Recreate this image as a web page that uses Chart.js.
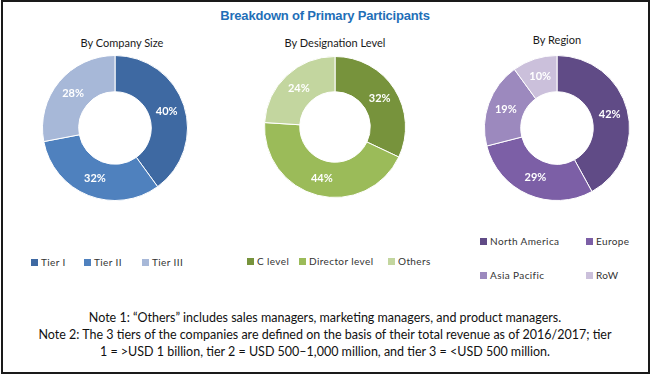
<!DOCTYPE html>
<html>
<head>
<meta charset="utf-8">
<script src="https://cdn.jsdelivr.net/npm/chart.js@4/dist/chart.umd.min.js"></script>
<style>
body { margin: 0; background: #fff; }
#cadre { position: relative; width: 650px; height: 374px; background: #fff; overflow: hidden; font-family: Lato, "Open Sans", sans-serif; }
#bord { position: absolute; left: 1px; top: 0; width: 645px; height: 370px; border: 2px solid #1a1a1a; }
.titre { position: absolute; left: 0; width: 650px; top: 8px; text-align: center; color: #1F6FB8; font: bold 13px "Liberation Sans Narrow", "Liberation Sans", sans-serif; letter-spacing: -0.2px; }
.sous { position: absolute; width: 200px; text-align: center; font-size: 11px; color: #1a1a1a; }
canvas { position: absolute; }
.leg { position: absolute; font-size: 10px; color: #333; white-space: nowrap; letter-spacing: 0.4px; }
.leg i { display: inline-block; width: 7px; height: 7px; margin-right: 3px; vertical-align: 0px; }
.notes { position: absolute; left: 0; width: 650px; top: 309px; text-align: center; font-size: 12.5px; line-height: 17px; color: #111; }
</style>
</head>
<body>
<div id="cadre">
  <div id="bord"></div>
  <div class="titre">Breakdown of Primary Participants</div>
  <div class="sous" style="left:22px;top:36px">By Company Size</div>
  <div class="sous" style="left:235px;top:36px">By Designation Level</div>
  <div class="sous" style="left:457px;top:33px">By Region</div>
  <canvas id="g1" width="146" height="146" style="left:42px;top:55px"></canvas>
  <canvas id="g2" width="142" height="142" style="left:264px;top:56px"></canvas>
  <canvas id="g3" width="146" height="146" style="left:484px;top:55px"></canvas>
  <div id="legendes"></div>
  <div class="notes">Note 1: “Others” includes sales managers, marketing managers, and product managers.<br>Note 2: The 3 tiers of the companies are defined on the basis of their total revenue as of 2016/2017; tier<br>1 = &gt;USD 1 billion, tier 2 = USD 500–1,000 million, and tier 3 = &lt;USD 500 million.</div>
</div>
<script>
// donnees des trois anneaux
const tailleLabels = ["Tier I", "Tier II", "Tier III"];
const tailleValeurs = [40, 32, 28];
const tailleCouleurs = ["#3E69A2", "#4F81BE", "#A7B8D8"];

const niveauLabels = ["C level", "Director level", "Others"];
const niveauValeurs = [32, 44, 24];
const niveauCouleurs = ["#77933C", "#9BBB59", "#C3D69F"];

const regionLabels = ["North America", "Europe", "Asia Pacific", "RoW"];
const regionValeurs = [42, 29, 19, 10];
const regionCouleurs = ["#604B86", "#7C5FA6", "#9C89BE", "#CBC0DB"];

// position des legendes (x, y) pour chaque element
const legendePos = {
    g1: [[31, 256], [84, 256], [142, 256]],
    g2: [[247, 255], [299, 255], [388, 255]],
    g3: [[480, 235], [586, 235], [480, 269], [586, 269]]
};

const pourcents = {
    id: "pourcents",
    afterDatasetsDraw(chart) {
        const ctx = chart.ctx;
        const meta = chart.getDatasetMeta(0);
        ctx.save();
        ctx.fillStyle = "#fff";
        ctx.font = "bold 11px Lato, sans-serif";
        ctx.textAlign = "center";
        ctx.textBaseline = "middle";
        meta.data.forEach((arc, i) => {
            const p = arc.tooltipPosition();
            ctx.fillText(chart.data.datasets[0].data[i] + "%", p.x, p.y);
        });
        ctx.restore();
    }
};

function afficher(element, labels, valeurs, couleurs) {
    let c = new Chart(document.getElementById(element), {
        type: "doughnut",
        data: {
            labels: labels,
            datasets: [{
                data: valeurs,
                backgroundColor: couleurs,
                borderColor: "#fff",
                borderWidth: 1
            }]
        },
        options: {
            responsive: false,
            animation: false,
            cutout: "50%",
            layout: { padding: 0 },
            plugins: { legend: { display: false }, tooltip: { enabled: false } }
        },
        plugins: [pourcents]
    });
    let html = "";
    labels.forEach((l, i) => {
        const pos = legendePos[element][i];
        html += '<div class="leg" style="left:' + pos[0] + 'px;top:' + pos[1] + 'px"><i style="background:' + couleurs[i] + '"></i>' + l + '</div>';
    });
    document.getElementById("legendes").innerHTML += html;
    return c;
}

afficher("g1", tailleLabels, tailleValeurs, tailleCouleurs);
afficher("g2", niveauLabels, niveauValeurs, niveauCouleurs);
afficher("g3", regionLabels, regionValeurs, regionCouleurs);
</script>
</body>
</html>
